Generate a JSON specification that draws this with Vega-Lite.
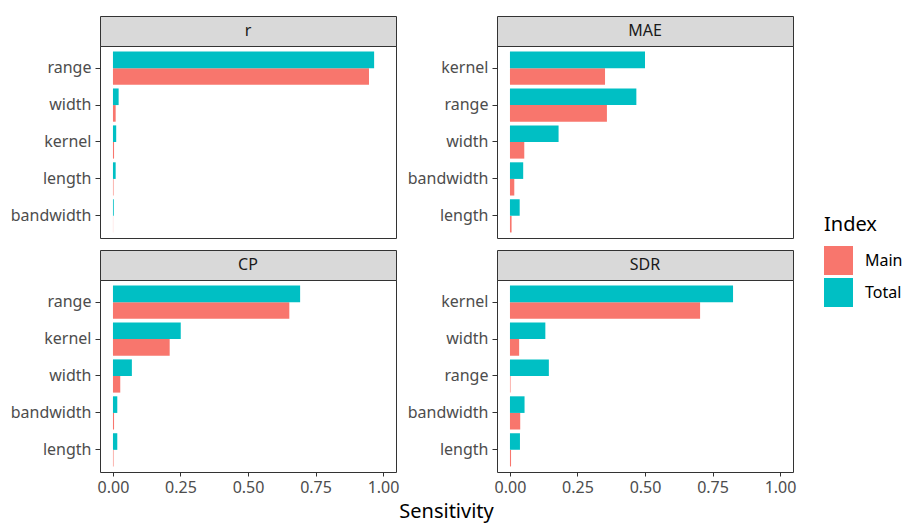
{
  "$schema": "https://vega.github.io/schema/vega-lite/v6.json",
  "padding": {"left": 9, "top": 15, "right": 5, "bottom": 5},
  "background": "white",
  "datasets": {
    "sens": [
      {"metric": "r", "param": "range", "Index": "Main", "Sensitivity": 0.948},
      {"metric": "r", "param": "range", "Index": "Total", "Sensitivity": 0.967},
      {"metric": "r", "param": "width", "Index": "Main", "Sensitivity": 0.010},
      {"metric": "r", "param": "width", "Index": "Total", "Sensitivity": 0.021},
      {"metric": "r", "param": "kernel", "Index": "Main", "Sensitivity": 0.004},
      {"metric": "r", "param": "kernel", "Index": "Total", "Sensitivity": 0.012},
      {"metric": "r", "param": "length", "Index": "Main", "Sensitivity": 0.002},
      {"metric": "r", "param": "length", "Index": "Total", "Sensitivity": 0.010},
      {"metric": "r", "param": "bandwidth", "Index": "Main", "Sensitivity": 0.0005},
      {"metric": "r", "param": "bandwidth", "Index": "Total", "Sensitivity": 0.003},
      {"metric": "MAE", "param": "kernel", "Index": "Main", "Sensitivity": 0.352},
      {"metric": "MAE", "param": "kernel", "Index": "Total", "Sensitivity": 0.500},
      {"metric": "MAE", "param": "range", "Index": "Main", "Sensitivity": 0.359},
      {"metric": "MAE", "param": "range", "Index": "Total", "Sensitivity": 0.468},
      {"metric": "MAE", "param": "width", "Index": "Main", "Sensitivity": 0.053},
      {"metric": "MAE", "param": "width", "Index": "Total", "Sensitivity": 0.180},
      {"metric": "MAE", "param": "bandwidth", "Index": "Main", "Sensitivity": 0.016},
      {"metric": "MAE", "param": "bandwidth", "Index": "Total", "Sensitivity": 0.049},
      {"metric": "MAE", "param": "length", "Index": "Main", "Sensitivity": 0.006},
      {"metric": "MAE", "param": "length", "Index": "Total", "Sensitivity": 0.036},
      {"metric": "CP", "param": "range", "Index": "Main", "Sensitivity": 0.653},
      {"metric": "CP", "param": "range", "Index": "Total", "Sensitivity": 0.693},
      {"metric": "CP", "param": "kernel", "Index": "Main", "Sensitivity": 0.210},
      {"metric": "CP", "param": "kernel", "Index": "Total", "Sensitivity": 0.251},
      {"metric": "CP", "param": "width", "Index": "Main", "Sensitivity": 0.027},
      {"metric": "CP", "param": "width", "Index": "Total", "Sensitivity": 0.070},
      {"metric": "CP", "param": "bandwidth", "Index": "Main", "Sensitivity": 0.004},
      {"metric": "CP", "param": "bandwidth", "Index": "Total", "Sensitivity": 0.016},
      {"metric": "CP", "param": "length", "Index": "Main", "Sensitivity": 0.002},
      {"metric": "CP", "param": "length", "Index": "Total", "Sensitivity": 0.016},
      {"metric": "SDR", "param": "kernel", "Index": "Main", "Sensitivity": 0.704},
      {"metric": "SDR", "param": "kernel", "Index": "Total", "Sensitivity": 0.826},
      {"metric": "SDR", "param": "width", "Index": "Main", "Sensitivity": 0.034},
      {"metric": "SDR", "param": "width", "Index": "Total", "Sensitivity": 0.131},
      {"metric": "SDR", "param": "range", "Index": "Main", "Sensitivity": 0.002},
      {"metric": "SDR", "param": "range", "Index": "Total", "Sensitivity": 0.144},
      {"metric": "SDR", "param": "bandwidth", "Index": "Main", "Sensitivity": 0.038},
      {"metric": "SDR", "param": "bandwidth", "Index": "Total", "Sensitivity": 0.054},
      {"metric": "SDR", "param": "length", "Index": "Main", "Sensitivity": 0.004},
      {"metric": "SDR", "param": "length", "Index": "Total", "Sensitivity": 0.037}
    ]
  },
  "config": {
    "font": "Noto Sans",
    "view": {"stroke": "#333333", "strokeWidth": 1},
    "axis": {
      "labelFont": "Noto Sans",
      "labelFontSize": 16,
      "labelColor": "#4d4d4d",
      "tickColor": "#333333",
      "tickSize": 5,
      "labelPadding": 4,
      "domain": false,
      "grid": false
    },
    "legend": {
      "titleFont": "Noto Sans",
      "labelFont": "Noto Sans",
      "titleFontSize": 20,
      "titleFontWeight": "normal",
      "titleColor": "#000000",
      "labelFontSize": 16,
      "labelColor": "#000000",
      "symbolType": "square",
      "symbolSize": 841,
      "symbolStrokeWidth": 0,
      "symbolOpacity": 1,
      "rowPadding": 3,
      "labelOffset": 12,
      "titlePadding": 11
    }
  },
  "bounds": "flush",
  "columns": 2,
  "spacing": {"row": 0, "column": 101},
  "concat": [
    {
      "width": 296, "height": 30,
      "data": {"name": "sens"},
      "transform": [{"filter": "datum.metric === 'r'"}, {"aggregate": [{"op": "count", "as": "n"}], "groupby": ["metric"]}],
      "mark": {"type": "text", "fontSize": 16, "color": "#1a1a1a"},
      "encoding": {"text": {"field": "metric", "type": "nominal"}},
      "view": {"fill": "#d9d9d9", "stroke": "#333333"}
    },
    {
      "width": 296, "height": 30,
      "data": {"name": "sens"},
      "transform": [{"filter": "datum.metric === 'MAE'"}, {"aggregate": [{"op": "count", "as": "n"}], "groupby": ["metric"]}],
      "mark": {"type": "text", "fontSize": 16, "color": "#1a1a1a"},
      "encoding": {"text": {"field": "metric", "type": "nominal"}},
      "view": {"fill": "#d9d9d9", "stroke": "#333333"}
    },
    {
      "width": 296, "height": 192,
      "data": {"name": "sens"},
      "transform": [{"filter": "datum.metric === 'r'"}],
      "mark": {"type": "bar"},
      "encoding": {
        "y": {"field": "param", "type": "nominal", "title": null, "sort": {"op": "sum", "field": "Sensitivity", "order": "descending"}, "scale": {"paddingInner": 0.1, "paddingOuter": 0.15}},
        "yOffset": {"field": "Index", "type": "nominal", "sort": ["Total", "Main"], "scale": {"paddingInner": 0, "paddingOuter": 0}},
        "x": {"field": "Sensitivity", "type": "quantitative", "scale": {"domain": [-0.048, 1.048], "nice": false, "zero": false}, "axis": null},
        "color": {"field": "Index", "type": "nominal", "scale": {"domain": ["Main", "Total"], "range": ["#F8766D", "#00BFC4"]}, "legend": {"orient": "none", "legendX": 724, "legendY": 199, "title": "Index"}}
      }
    },
    {
      "width": 296, "height": 192,
      "data": {"name": "sens"},
      "transform": [{"filter": "datum.metric === 'MAE'"}],
      "mark": {"type": "bar"},
      "encoding": {
        "y": {"field": "param", "type": "nominal", "title": null, "sort": {"op": "sum", "field": "Sensitivity", "order": "descending"}, "scale": {"paddingInner": 0.1, "paddingOuter": 0.15}},
        "yOffset": {"field": "Index", "type": "nominal", "sort": ["Total", "Main"], "scale": {"paddingInner": 0, "paddingOuter": 0}},
        "x": {"field": "Sensitivity", "type": "quantitative", "scale": {"domain": [-0.048, 1.048], "nice": false, "zero": false}, "axis": null},
        "color": {"field": "Index", "type": "nominal"}
      }
    },
    {
      "width": 296, "height": 12,
      "data": {"values": []},
      "mark": "point",
      "view": {"stroke": null}
    },
    {
      "width": 296, "height": 12,
      "data": {"values": []},
      "mark": "point",
      "view": {"stroke": null}
    },
    {
      "width": 296, "height": 30,
      "data": {"name": "sens"},
      "transform": [{"filter": "datum.metric === 'CP'"}, {"aggregate": [{"op": "count", "as": "n"}], "groupby": ["metric"]}],
      "mark": {"type": "text", "fontSize": 16, "color": "#1a1a1a"},
      "encoding": {"text": {"field": "metric", "type": "nominal"}},
      "view": {"fill": "#d9d9d9", "stroke": "#333333"}
    },
    {
      "width": 296, "height": 30,
      "data": {"name": "sens"},
      "transform": [{"filter": "datum.metric === 'SDR'"}, {"aggregate": [{"op": "count", "as": "n"}], "groupby": ["metric"]}],
      "mark": {"type": "text", "fontSize": 16, "color": "#1a1a1a"},
      "encoding": {"text": {"field": "metric", "type": "nominal"}},
      "view": {"fill": "#d9d9d9", "stroke": "#333333"}
    },
    {
      "width": 296, "height": 192,
      "data": {"name": "sens"},
      "transform": [{"filter": "datum.metric === 'CP'"}],
      "mark": {"type": "bar"},
      "encoding": {
        "y": {"field": "param", "type": "nominal", "title": null, "sort": {"op": "sum", "field": "Sensitivity", "order": "descending"}, "scale": {"paddingInner": 0.1, "paddingOuter": 0.15}},
        "yOffset": {"field": "Index", "type": "nominal", "sort": ["Total", "Main"], "scale": {"paddingInner": 0, "paddingOuter": 0}},
        "x": {"field": "Sensitivity", "type": "quantitative", "scale": {"domain": [-0.048, 1.048], "nice": false, "zero": false},
              "axis": {"values": [0, 0.25, 0.5, 0.75, 1], "format": ".2f", "tickSize": 4, "labelPadding": 3, "title": "Sensitivity", "titleX": 346, "titleY": 39, "titleAlign": "center", "titleBaseline": "middle", "titleFontSize": 20, "titleFontWeight": "normal", "titleColor": "#000000", "titleFont": "Noto Sans"}},
        "color": {"field": "Index", "type": "nominal"}
      }
    },
    {
      "width": 296, "height": 192,
      "data": {"name": "sens"},
      "transform": [{"filter": "datum.metric === 'SDR'"}],
      "mark": {"type": "bar"},
      "encoding": {
        "y": {"field": "param", "type": "nominal", "title": null, "sort": {"op": "sum", "field": "Sensitivity", "order": "descending"}, "scale": {"paddingInner": 0.1, "paddingOuter": 0.15}},
        "yOffset": {"field": "Index", "type": "nominal", "sort": ["Total", "Main"], "scale": {"paddingInner": 0, "paddingOuter": 0}},
        "x": {"field": "Sensitivity", "type": "quantitative", "scale": {"domain": [-0.048, 1.048], "nice": false, "zero": false},
              "axis": {"values": [0, 0.25, 0.5, 0.75, 1], "format": ".2f", "tickSize": 4, "labelPadding": 3, "title": null}},
        "color": {"field": "Index", "type": "nominal"}
      }
    }
  ]
}
